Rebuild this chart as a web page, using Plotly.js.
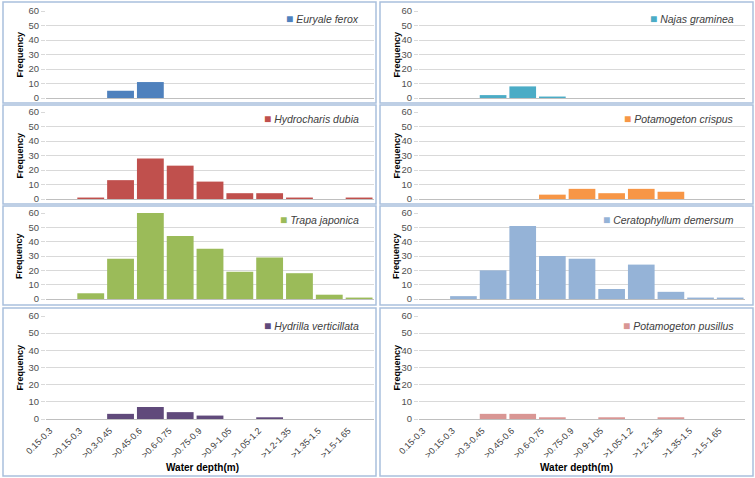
<!DOCTYPE html>
<html>
<head>
<meta charset="utf-8">
<script src="https://cdn.plot.ly/plotly-3.0.1.min.js"></script>
<style>
  html, body { margin: 0; padding: 0; background: #ffffff; }
  #chart { width: 755px; height: 478px; }
</style>
</head>
<body>
<div id="chart"></div>
<script>
// Water-depth classes (m)
const depthClasses = ['0.15-0.3', '>0.15-0.3', '>0.3-0.45', '>0.45-0.6', '>0.6-0.75', '>0.75-0.9',
                      '>0.9-1.05', '>1.05-1.2', '>1.2-1.35', '>1.35-1.5', '>1.5-1.65'];

// Frequency of each species per depth class
const euryaleFerox          = [0, 0, 5, 11, 0, 0, 0, 0, 0, 0, 0];
const najasGraminea         = [0, 0, 2, 8, 1, 0, 0, 0, 0, 0, 0];
const hydrocharisDubia      = [0, 1, 13, 28, 23, 12, 4, 4, 1, 0, 1];
const potamogetonCrispus    = [0, 0, 0, 0, 3, 7, 4, 7, 5, 0, 0];
const trapaJaponica         = [0, 4, 28, 60, 44, 35, 19, 29, 18, 3, 1];
const ceratophyllumDemersum = [0, 2, 20, 51, 30, 28, 7, 24, 5, 1, 1];
const hydrillaVerticillata  = [0, 0, 3, 7, 4, 2, 0, 1, 0, 0, 0];
const potamogetonPusillus   = [0, 0, 3, 3, 1, 0, 1, 0, 1, 0, 0];

const speciesNames = ['Euryale ferox', 'Najas graminea', 'Hydrocharis dubia', 'Potamogeton crispus',
                      'Trapa japonica', 'Ceratophyllum demersum', 'Hydrilla verticillata', 'Potamogeton pusillus'];
const speciesValues = [euryaleFerox, najasGraminea, hydrocharisDubia, potamogetonCrispus,
                       trapaJaponica, ceratophyllumDemersum, hydrillaVerticillata, potamogetonPusillus];
const speciesColors = ['#4F81BD', '#4BACC6', '#C0504D', '#F79646',
                       '#9BBB59', '#95B3D7', '#604A7B', '#D99694'];

// Page geometry in pixels
const W = 755, H = 478;
const px = x => x / W;
const py = y => 1 - y / H;

// Plot areas: [left, right] per column, [top, bottom] per row
const colX = [[46, 374], [419, 745]];
const rowY = [[11, 98], [112, 199], [213, 299], [316, 419]];
// Panel frames
const frameX = [[3, 376], [380, 753]];
const frameY = [[2, 103], [105, 204], [206, 305], [308, 476]];
// Legend rows (y centre) and right edge of legend text per column
const legendY = [19, 119, 220, 326];
const legendRight = [361, 736];

const FONT = '"Liberation Sans", Arial, sans-serif';

const data = [];
const layout = {
  width: W, height: H,
  margin: {l: 0, r: 0, t: 0, b: 0},
  paper_bgcolor: '#ffffff',
  plot_bgcolor: '#ffffff',
  showlegend: false,
  bargap: 0.1,
  font: {family: FONT, color: '#404040'},
  annotations: [],
  shapes: []
};

speciesNames.forEach((name, i) => {
  const row = Math.floor(i / 2);
  const col = i % 2;
  const n = i + 1;
  const xa = 'xaxis' + (n === 1 ? '' : n);
  const ya = 'yaxis' + (n === 1 ? '' : n);
  const bottomRow = row === 3;

  data.push({
    type: 'bar',
    x: depthClasses,
    y: speciesValues[i],
    name: name,
    xaxis: 'x' + (n === 1 ? '' : n),
    yaxis: 'y' + (n === 1 ? '' : n),
    marker: {color: speciesColors[i], line: {width: 0}},
    hoverinfo: 'x+y+name'
  });

  layout[xa] = {
    domain: [px(colX[col][0]), px(colX[col][1])],
    anchor: 'y' + (n === 1 ? '' : n),
    type: 'category',
    categoryarray: depthClasses,
    range: [-0.5, depthClasses.length - 0.5],
    showline: true, linecolor: '#BFBFBF', linewidth: 1,
    showgrid: false, zeroline: false,
    ticks: '',
    showticklabels: bottomRow,
    tickangle: -45,
    ticklabelshift: -11,
    ticklabelstandoff: 2,
    tickfont: {family: FONT, size: 9, color: '#404040'},
    fixedrange: true
  };

  layout[ya] = {
    domain: [py(rowY[row][1]), py(rowY[row][0])],
    anchor: 'x' + (n === 1 ? '' : n),
    range: [0, 60],
    dtick: 10,
    showline: false,
    showgrid: true, gridcolor: '#D9D9D9', gridwidth: 1,
    zeroline: false,
    ticks: 'outside', ticklen: 4, tickcolor: '#D9D9D9',
    tickfont: {family: FONT, size: 9.5, color: '#505050'},
    fixedrange: true
  };

  // Panel frame
  layout.shapes.push({
    type: 'rect', xref: 'paper', yref: 'paper',
    x0: px(frameX[col][0]), x1: px(frameX[col][1]),
    y0: py(frameY[row][1]), y1: py(frameY[row][0]),
    line: {color: '#A9C0DD', width: 1.5},
    fillcolor: 'rgba(0,0,0,0)',
    layer: 'below'
  });

  // Y axis title
  layout.annotations.push({
    xref: 'paper', yref: 'paper',
    x: px(col === 0 ? 19 : 396), y: py((rowY[row][0] + rowY[row][1]) / 2),
    text: '<b>Frequency</b>', textangle: -90, showarrow: false,
    xanchor: 'center', yanchor: 'middle',
    font: {family: FONT, size: 9, color: '#000000'}
  });

  // Series key
  layout.annotations.push({
    xref: 'paper', yref: 'paper',
    x: px(legendRight[col]), y: py(legendY[row]),
    xanchor: 'right', yanchor: 'middle', showarrow: false,
    text: '<span style="color:' + speciesColors[i] + ';font-size:12px">■</span> <i>' + name + '</i>',
    font: {family: FONT, size: 10.5, color: '#404040'}
  });

  // X axis title on the bottom row
  if (bottomRow) {
    layout.annotations.push({
      xref: 'paper', yref: 'paper',
      x: px(col === 0 ? 202 : 576), y: py(467),
      xanchor: 'center', yanchor: 'middle', showarrow: false,
      text: '<b>Water depth(m)</b>',
      font: {family: FONT, size: 10, color: '#000000'}
    });
  }
});

Plotly.newPlot('chart', data, layout, {displayModeBar: false, staticPlot: true});
</script>
</body>
</html>
